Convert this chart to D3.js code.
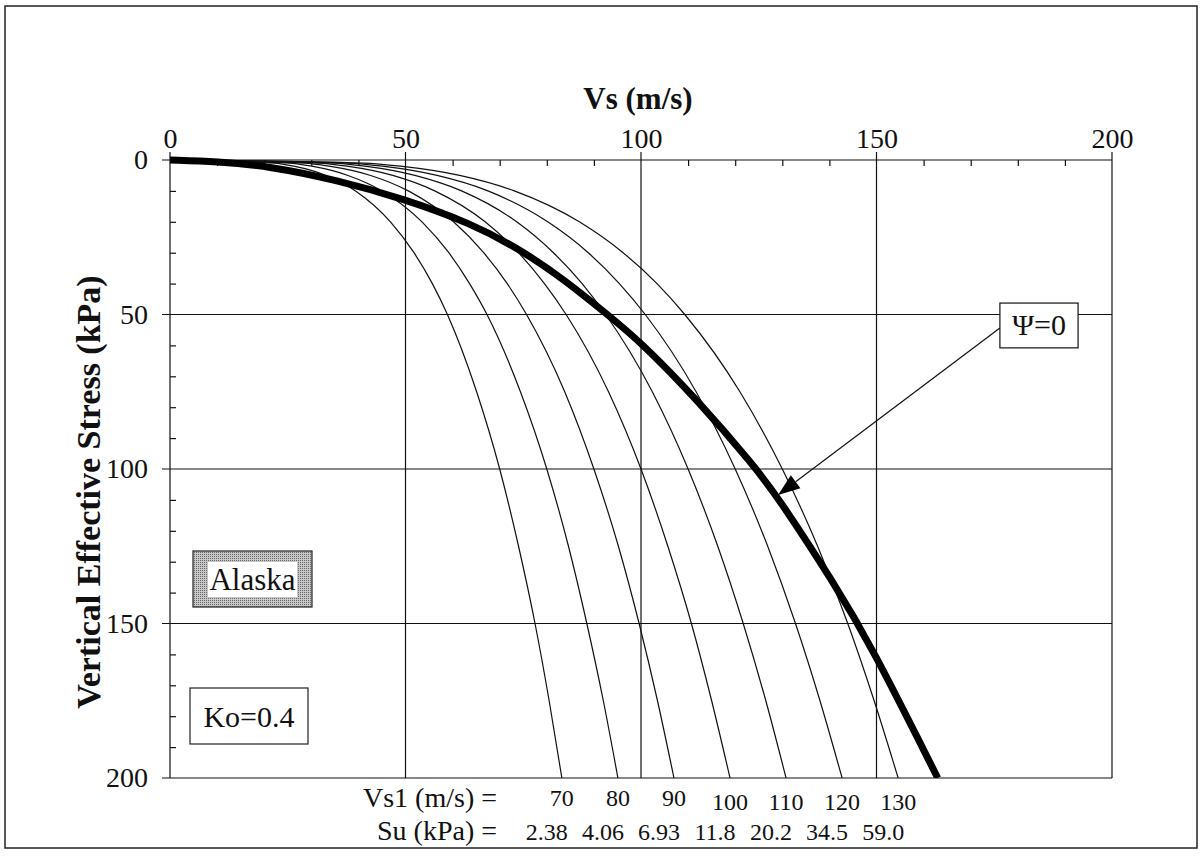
<!DOCTYPE html>
<html><head><meta charset="utf-8">
<script src="https://cdn.jsdelivr.net/npm/d3@7"></script>
<style>
body{margin:0;background:#fff}
svg{display:block}
text{font-family:"Liberation Serif","Times New Roman",serif;fill:#111}
</style>
</head><body>
<svg id="c" width="1204" height="859"></svg>
<script>
// ---------- data ----------
const xTicks = [0, 50, 100, 150, 200];
const yTicks = [0, 50, 100, 150, 200];
const stressLevels = [0, 1, 2, 5, 10, 20, 30, 40, 50, 75, 100, 125, 150, 175, 200];
const vs1Values = [70, 80, 90, 100, 110, 120, 130];
const suValues = ["2.38", "4.06", "6.93", "11.8", "20.2", "34.5", "59.0"];
const vsCurve70  = [0, 22.1, 26.3, 33.1, 39.4, 46.8, 51.8, 55.7, 58.9, 65.1, 70, 74.0, 77.5, 80.5, 83.2];
const vsCurve80  = [0, 25.3, 30.1, 37.8, 45.0, 53.5, 59.2, 63.6, 67.3, 74.4, 80, 84.6, 88.5, 92.0, 95.1];
const vsCurve90  = [0, 28.5, 33.8, 42.6, 50.6, 60.2, 66.6, 71.6, 75.7, 83.8, 90, 95.2, 99.6, 103.5, 107.0];
const vsCurve100 = [0, 31.6, 37.6, 47.3, 56.2, 66.9, 74.0, 79.5, 84.1, 93.1, 100, 105.7, 110.7, 115.0, 118.9];
const vsCurve110 = [0, 34.8, 41.4, 52.0, 61.9, 73.6, 81.4, 87.5, 92.5, 102.4, 110, 116.3, 121.7, 126.5, 130.8];
const vsCurve120 = [0, 37.9, 45.1, 56.7, 67.5, 80.2, 88.8, 95.4, 100.9, 111.7, 120, 126.9, 132.8, 138.0, 142.7];
const vsCurve130 = [0, 41.1, 48.9, 61.5, 73.1, 86.9, 96.2, 103.4, 109.3, 121.0, 130, 137.5, 143.9, 149.5, 154.6];
const psiZeroVs     = [0, 10, 21, 35.5, 49.5, 63.8, 74.4, 84, 93.5, 100, 112, 124, 129, 141, 148.8, 163];
const psiZeroStress = [0, 0.5, 2.0, 6.5, 12.5, 20.4, 29, 39, 50.8, 59, 77.7, 99, 109, 137, 157, 200];
const thinCurves = [vsCurve70, vsCurve80, vsCurve90, vsCurve100, vsCurve110, vsCurve120, vsCurve130];

// ---------- layout ----------
const svg = d3.select("#c");
svg.append("rect").attr("width",1204).attr("height",859).attr("fill","#fff");
const x = d3.scaleLinear().domain([0,200]).range([170,1112]);
const y = d3.scaleLinear().domain([0,200]).range([160,778]);

// outer frame
svg.append("rect").attr("x",5).attr("y",6).attr("width",1192).attr("height",842)
  .attr("fill","none").attr("stroke","#222").attr("stroke-width",1.5);

// gridlines (major, extending outside like ticks)
const grid = svg.append("g").attr("stroke","#111").attr("stroke-width",1.2);
xTicks.forEach(v => grid.append("line").attr("x1",x(v)).attr("x2",x(v)).attr("y1",y(0)-8).attr("y2",y(200)));
yTicks.forEach(v => grid.append("line").attr("y1",y(v)).attr("y2",y(v)).attr("x1",x(0)-8).attr("x2",x(200)));

// top axis labels
const topAxis = d3.axisTop(x).tickValues(xTicks).tickSize(0).tickPadding(12).tickSizeOuter(0);
const gTop = svg.append("g").attr("transform",`translate(0,${y(0)})`).call(topAxis);
gTop.select(".domain").remove();
gTop.selectAll("text").style("font-size","28px").style("font-family",'"Liberation Serif",serif').attr("fill","#111");

// top minor ticks (pointing inward)
const minorX = d3.range(10,200,10).filter(v => v % 50 !== 0);
const gTopMinor = svg.append("g").attr("transform",`translate(0,${y(0)})`)
  .call(d3.axisTop(x).tickValues(minorX).tickSize(-6).tickFormat("").tickSizeOuter(0));
gTopMinor.select(".domain").remove();
gTopMinor.selectAll("line").attr("stroke","#111").attr("stroke-width",1.2);

// left axis labels
const leftAxis = d3.axisLeft(y).tickValues(yTicks).tickSize(0).tickPadding(22).tickSizeOuter(0);
const gLeft = svg.append("g").attr("transform",`translate(${x(0)},0)`).call(leftAxis);
gLeft.select(".domain").remove();
gLeft.selectAll("text").style("font-size","28px").style("font-family",'"Liberation Serif",serif').attr("fill","#111");

const minorY = d3.range(10,200,10).filter(v => v % 50 !== 0);
const gLeftMinor = svg.append("g").attr("transform",`translate(${x(0)},0)`)
  .call(d3.axisLeft(y).tickValues(minorY).tickSize(-6).tickFormat("").tickSizeOuter(0));
gLeftMinor.select(".domain").remove();
gLeftMinor.selectAll("line").attr("stroke","#111").attr("stroke-width",1.2);

// axis titles
svg.append("text").attr("x",638).attr("y",109).attr("text-anchor","middle")
  .style("font-size","31px").style("font-weight","bold").text("Vs (m/s)");
svg.append("text").attr("transform",`translate(100,492) rotate(-90)`)
  .attr("text-anchor","middle").style("font-size","34px").style("font-weight","bold")
  .text("Vertical Effective Stress (kPa)");

// clip
svg.append("clipPath").attr("id","plotclip").append("rect")
  .attr("x",x(0)).attr("y",y(0)-4).attr("width",x(200)-x(0)).attr("height",y(200)-y(0)+4);

const line = d3.line().x(d=>x(d[0])).y(d=>y(d[1])).curve(d3.curveMonotoneX);
const gCurves = svg.append("g").attr("clip-path","url(#plotclip)");
thinCurves.forEach(vs => {
  const pts = vs.map((v,i) => [v, stressLevels[i]]);
  gCurves.append("path").attr("d", line(pts)).attr("fill","none")
    .attr("stroke","#111").attr("stroke-width",1.2);
});
const thickPts = psiZeroVs.map((v,i) => [v, psiZeroStress[i]]);
gCurves.append("path").attr("d", d3.line().x(d=>x(d[0])).y(d=>y(d[1])).curve(d3.curveBasis)(thickPts))
  .attr("fill","none").attr("stroke","#000").attr("stroke-width",7);

// annotation: Psi = 0 box with arrow
const boxX0 = x(176.2), boxX1 = x(192.8), boxY0 = y(46.3), boxY1 = y(60.8);
const tipX = x(129.1), tipY = y(108.4);
const startX = boxX0, startY = y(54.4);
const ang = Math.atan2(tipY - startY, tipX - startX);
const aLen = 22, aHalf = 8;
const baseX = tipX - aLen*Math.cos(ang), baseY = tipY - aLen*Math.sin(ang);
svg.append("line").attr("x1",startX).attr("y1",startY).attr("x2",baseX).attr("y2",baseY)
  .attr("stroke","#111").attr("stroke-width",1.2);
svg.append("path").attr("d", d3.line()([
  [tipX,tipY],
  [baseX + aHalf*Math.sin(ang), baseY - aHalf*Math.cos(ang)],
  [baseX - aHalf*Math.sin(ang), baseY + aHalf*Math.cos(ang)]
]) + "Z").attr("fill","#000");
svg.append("rect").attr("x",boxX0).attr("y",boxY0).attr("width",boxX1-boxX0).attr("height",boxY1-boxY0)
  .attr("fill","#fff").attr("stroke","#111").attr("stroke-width",1.2);
svg.append("text").attr("x",(boxX0+boxX1)/2).attr("y",(boxY0+boxY1)/2+10).attr("text-anchor","middle")
  .style("font-size","30px").text("Ψ=0");

// Alaska box (stippled)
const pat = svg.append("defs").append("pattern").attr("id","stip").attr("patternUnits","userSpaceOnUse")
  .attr("width",2).attr("height",2);
pat.append("rect").attr("width",2).attr("height",2).attr("fill","#c8c8c8");
pat.append("rect").attr("width",1).attr("height",1).attr("fill","#666");
svg.append("rect").attr("x",193).attr("y",551).attr("width",119).attr("height",56)
  .attr("fill","url(#stip)").attr("stroke","#222").attr("stroke-width",1.2);
svg.append("rect").attr("x",208).attr("y",562).attr("width",89).attr("height",35).attr("fill","#fff");
svg.append("text").attr("x",252.5).attr("y",590).attr("text-anchor","middle")
  .style("font-size","31px").text("Alaska");

// Ko box
svg.append("rect").attr("x",190).attr("y",688).attr("width",118).attr("height",56)
  .attr("fill","#fff").attr("stroke","#222").attr("stroke-width",1.2);
svg.append("text").attr("x",249).attr("y",727).attr("text-anchor","middle")
  .style("font-size","30px").text("Ko=0.4");

// bottom labels
svg.append("text").attr("x",497).attr("y",807).attr("text-anchor","end").style("font-size","28px").text("Vs1 (m/s) =");
svg.append("text").attr("x",497).attr("y",840).attr("text-anchor","end").style("font-size","28px").text("Su (kPa) =");
thinCurves.forEach((vs,i) => {
  const ex = x(vs[vs.length-1]);
  svg.append("text").attr("x",ex).attr("y", vs1Values[i] >= 100 ? 810 : 806).attr("text-anchor","middle")
    .style("font-size","24px").text(vs1Values[i]);
  svg.append("text").attr("x",ex-15).attr("y",840).attr("text-anchor","middle")
    .style("font-size","24px").text(suValues[i]);
});
</script>
</body></html>
